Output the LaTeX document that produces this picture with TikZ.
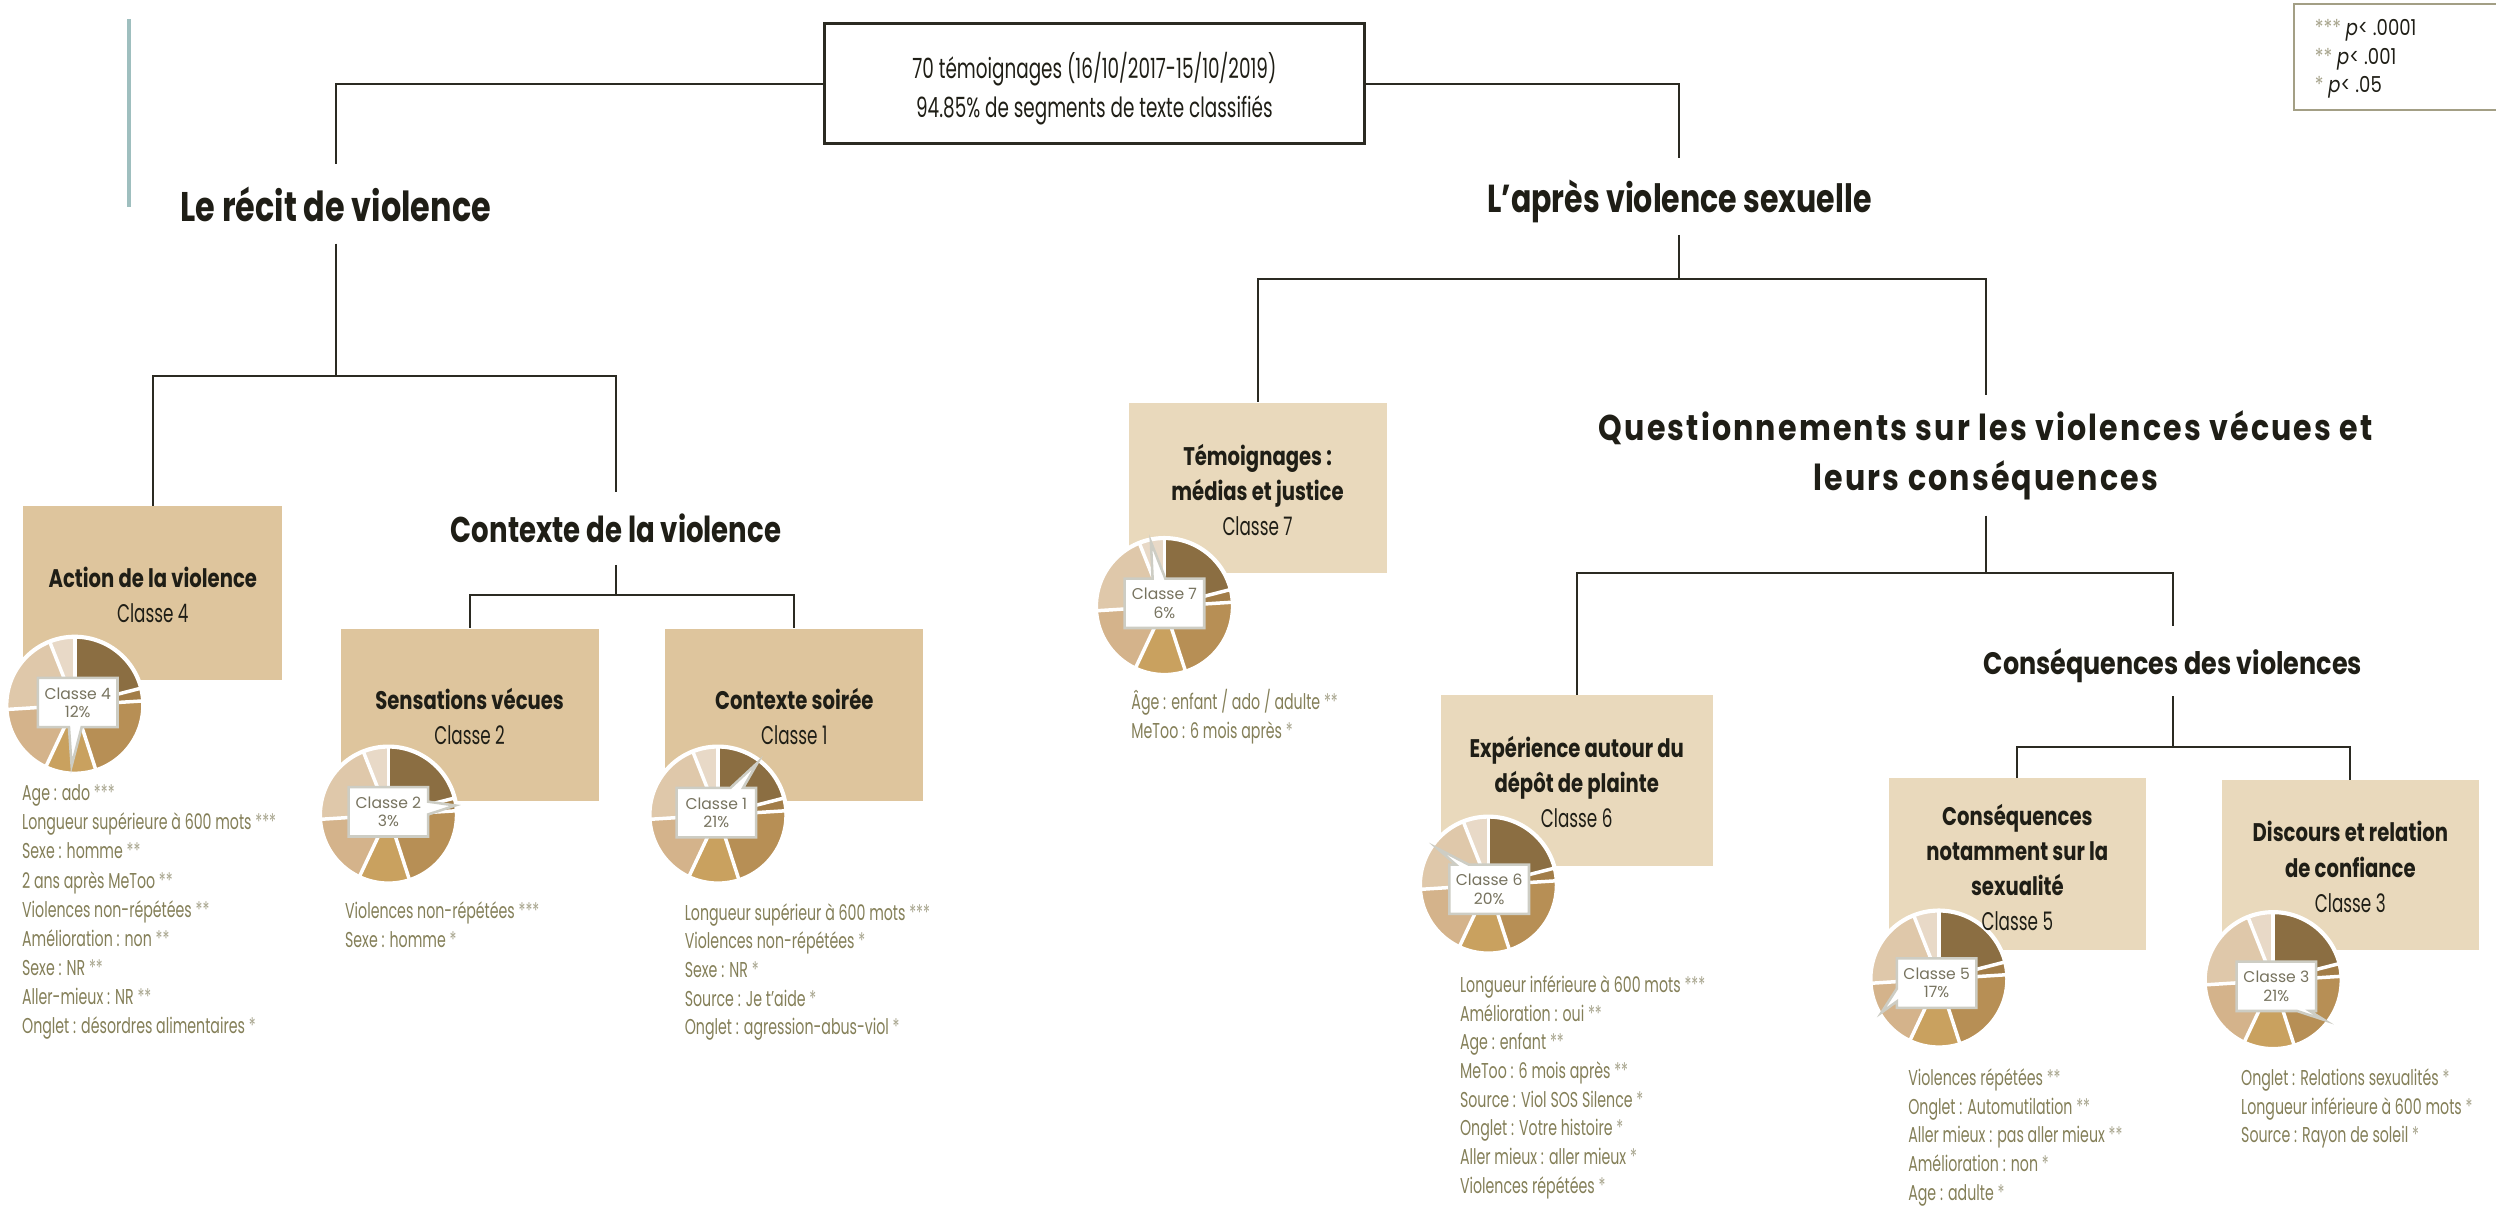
\documentclass[tikz,border=0pt]{standalone}
\usepackage{fontspec}
\setmainfont{Poppins}
\newfontfamily\condfont[FakeStretch=0.66]{Poppins}
\newfontfamily\boldcond[FakeStretch=0.77]{Poppins}
\newfontfamily\headfont[FakeStretch=0.82]{Poppins}
\newfontfamily\questfont[FakeStretch=0.84,LetterSpace=6]{Poppins}
\usetikzlibrary{shapes.callouts}
\definecolor{titlec}{HTML}{1F1E16}
\definecolor{linec}{HTML}{2B2A22}
\definecolor{boxdark}{HTML}{DEC59D}
\definecolor{boxlight}{HTML}{E9D9BC}
\definecolor{listc}{HTML}{847F58}
\definecolor{starc}{HTML}{A8A58E}
\definecolor{calloutc}{HTML}{77735F}
\definecolor{callbord}{HTML}{CDCDC4}
\definecolor{legbord}{HTML}{A39F85}
\definecolor{tealc}{HTML}{9FBFBF}
\definecolor{sliceA}{HTML}{8B6E42}
\definecolor{sliceB}{HTML}{A27D48}
\definecolor{sliceC}{HTML}{B78F55}
\definecolor{sliceD}{HTML}{C9A15F}
\definecolor{sliceE}{HTML}{D4B38B}
\definecolor{sliceF}{HTML}{DFC8AA}
\definecolor{sliceG}{HTML}{E8D9C7}
\newcommand{\st}[1]{{\color{starc}#1}}

\begin{document}
\begin{tikzpicture}[x=1pt,y=-1pt,
	conn/.style={draw=linec,line width=1.3},
	headline/.style={font=\boldcond\bfseries\fontsize{26}{30}\selectfont,text=titlec,inner sep=0,outer ysep=14,text depth=0,anchor=base},
	darkbox/.style={fill=boxdark,minimum width=162,minimum height=108,inner sep=0},
	lightbox/.style={fill=boxlight,minimum width=162,minimum height=108,inner sep=0},
	boxtext/.style={font=\condfont\fontsize{16}{22}\selectfont,text=titlec,align=center,inner sep=0},
	entry/.style={font=\condfont\fontsize{13.5}{15}\selectfont,text=listc,anchor=base west,inner sep=0},
	pct/.style={rectangle callout,fill=white,draw=callbord,line width=1.6,text=calloutc,font=\fontsize{9.8}{11.5}\selectfont,align=center,minimum width=50,minimum height=31,inner sep=0,callout pointer width=8}]
	\fill[white] (0,0) rectangle (1568,757);
	\useasboundingbox (0,0) rectangle (1568,757);
	\draw[tealc,line width=2.5] (81,12) -- (81,130);

	\node[draw=linec,line width=2,minimum width=339,minimum height=75,inner sep=0] (root) at (687.5,52.5) {};
	\node[font=\condfont\fontsize{17.5}{24.5}\selectfont,text=titlec,align=center,inner sep=0] (rootT) at (687.5,55.5)
		{70 témoignages (16/10/2017-15/10/2019)\\94.85\% de segments de texte classifiés};
	\node[headline] (recit) at (211,139) {Le récit de violence};
	\node[headline,font=\boldcond\bfseries\fontsize{24.5}{30}\selectfont] (apres) at (1055,133.6) {L’après violence sexuelle};
	\node[headline,font=\boldcond\bfseries\fontsize{22.5}{25}\selectfont] (ctxv) at (387,340.8) {Contexte de la violence};
	\node[font=\questfont\bfseries\fontsize{22.5}{31}\selectfont,text=titlec,align=center,inner sep=0,outer ysep=10] (quest) at (1247.5,286)
		{Questionnements sur les violences vécues et\\leurs conséquences};
	\node[headline,font=\headfont\bfseries\fontsize{19.5}{22}\selectfont] (consv) at (1365,423.5) {Conséquences des violences};

	\node[darkbox,minimum width=162.5,minimum height=109] (action) at (96,372.5) {};
	\node[darkbox] (sens) at (295,449) {};
	\node[darkbox] (soir) at (499,449) {};
	\node[lightbox,minimum height=107] (temoi) at (790,306.4) {};
	\node[lightbox,minimum width=171,minimum height=107.4] (exper) at (990.5,490.3) {};
	\node[lightbox,minimum width=161.4] (conseq) at (1267.3,543) {};
	\node[lightbox,minimum width=161,minimum height=107] (disc) at (1476.5,543.5) {};

	\coordinate (j1) at (211,236);
	\coordinate (j2) at (387,374);
	\coordinate (j3) at (1055,175.5);
	\coordinate (j4) at (1247.5,360);
	\coordinate (j5) at (1365,469);
	\draw[conn] (root.west) -| (recit.north);
	\draw[conn] (root.east) -| (apres.north);
	\draw[conn] (recit.south) -- (j1) -| (action.north);
	\draw[conn] (j1) -| (ctxv.north);
	\draw[conn] (ctxv.south) -- (j2) -| (sens.north);
	\draw[conn] (j2) -| (soir.north);
	\draw[conn] (apres.south) -- (j3) -| (temoi.north);
	\draw[conn] (j3) -| (quest.north);
	\draw[conn] (quest.south) -- (j4) -| (exper.north);
	\draw[conn] (j4) -| (consv.north);
	\draw[conn] (consv.south) -- (j5) -| (conseq.north);
	\draw[conn] (j5) -| (disc.north);

	\foreach \cx/\cy in {47/443,244/512,451/512,731.5/381,935/556,1218/615,1428/616}{
		\foreach \a/\b/\c in {0/75.6/sliceA,75.6/86.4/sliceB,86.4/162/sliceC,162/205.2/sliceD,205.2/266.4/sliceE,266.4/338.4/sliceF,338.4/360/sliceG}
			\fill[\c] (\cx,\cy) -- ++(\a-90:42) arc[start angle=\a-90,end angle=\b-90,radius=42] -- cycle;
		\foreach \a in {0,75.6,86.4,162,205.2,266.4,338.4}
			\draw[white,line width=2.2] (\cx,\cy) -- ++(\a-90:43);
		\draw[white,line width=2.6] (\cx,\cy) circle[radius=43];
	}

	\node[pct,callout absolute pointer={(45,481)}] (k4) at (48.8,441.3) {Classe 4\\12\%};
	\node[pct,callout absolute pointer={(286,506)}] (k2) at (244,510) {Classe 2\\3\%};
	\node[pct,callout absolute pointer={(476,479)}] (k1) at (450,510.5) {Classe 1\\21\%};
	\node[pct,callout absolute pointer={(723,340.5)}] (k7) at (731.5,379) {Classe 7\\6\%};
	\node[pct,callout absolute pointer={(903,533)}] (k6) at (935.5,558.6) {Classe 6\\20\%};
	\node[pct,callout absolute pointer={(1182,636)}] (k5) at (1216.6,617.6) {Classe 5\\17\%};
	\node[pct,callout absolute pointer={(1460,640.7)}] (k3) at (1430,619.6) {Classe 3\\21\%};

	\node[boxtext] (actiont) at (96,373.5) {{\boldcond\bfseries Action de la violence}\\Classe 4};
	\node[boxtext] (senst) at (295,450) {{\boldcond\bfseries Sensations vécues}\\Classe 2};
	\node[boxtext] (soirt) at (499,450) {{\boldcond\bfseries Contexte soirée}\\Classe 1};
	\node[boxtext] (temoit) at (790,308) {{\boldcond\bfseries Témoignages :}\\{\boldcond\bfseries médias et justice}\\Classe 7};
	\node[boxtext] (expert) at (990.5,491.5) {{\boldcond\bfseries Expérience autour du}\\{\boldcond\bfseries dépôt de plainte}\\Classe 6};
	\node[boxtext] (conseqt) at (1267.3,545) {{\boldcond\bfseries Conséquences}\\{\boldcond\bfseries notamment sur  la}\\{\boldcond\bfseries sexualité}\\Classe 5};
	\node[boxtext] (disct) at (1476.5,544.6) {{\boldcond\bfseries Discours et relation}\\{\boldcond\bfseries de confiance}\\Classe 3};

	\foreach \t [count=\i from 0] in {Age : ado \st{***},Longueur supérieure à 600 mots \st{***},Sexe : homme \st{**},2 ans après MeToo \st{**},Violences non-répétées \st{**},Amélioration : non \st{**},Sexe : NR \st{**},Aller-mieux : NR \st{**},Onglet : désordres alimentaires \st{*}}
		\node[entry] (fourL\i) at (13.7,503+18.3*\i) {\t};
	\foreach \t [count=\i from 0] in {Violences non-répétées \st{***},Sexe : homme \st{*}}
		\node[entry] (twoL\i) at (216.6,577+18.3*\i) {\t};
	\foreach \t [count=\i from 0] in {Longueur supérieur à 600 mots \st{***},Violences non-répétées \st{*},Sexe : NR \st{*},Source : Je t’aide \st{*},Onglet : agression-abus-viol \st{*}}
		\node[entry] (oneL\i) at (430,578+18*\i) {\t};
	\foreach \t [count=\i from 0] in {Âge : enfant / ado / adulte \st{**},MeToo : 6 mois après \st{*}}
		\node[entry] (sevenL\i) at (710.6,446+17.8*\i) {\t};
	\foreach \t [count=\i from 0] in {Longueur inférieure à 600 mots \st{***},Amélioration : oui \st{**},Age : enfant \st{**},MeToo : 6 mois après \st{**},Source : Viol SOS Silence \st{*},Onglet : Votre histoire \st{*},Aller mieux : aller mieux \st{*},Violences répétées \st{*}}
		\node[entry] (sixL\i) at (917,623.5+18*\i) {\t};
	\foreach \t [count=\i from 0] in {Violences répétées \st{**},Onglet : Automutilation \st{**},Aller mieux : pas aller mieux \st{**},Amélioration : non \st{*},Age : adulte \st{*}}
		\node[entry] (fiveL\i) at (1198.6,682+18*\i) {\t};
	\foreach \t [count=\i from 0] in {Onglet : Relations sexualités \st{*},Longueur inférieure à 600 mots \st{*},Source : Rayon de soleil \st{*}}
		\node[entry] (threeL\i) at (1407.7,682+18*\i) {\t};

	\node[draw=legbord,line width=1,minimum width=129,minimum height=66.5,inner sep=0] (legbox) at (1505.5,35.75) {};
	\node[font=\headfont\fontsize{13.8}{17.8}\selectfont,text=titlec,align=left,anchor=west,inner sep=0] (leg) at (1454,37)
		{\st{***} {\itshape p}< .0001\\\st{**} {\itshape p}< .001\\\st{*} {\itshape p}< .05};
\end{tikzpicture}
\end{document}
